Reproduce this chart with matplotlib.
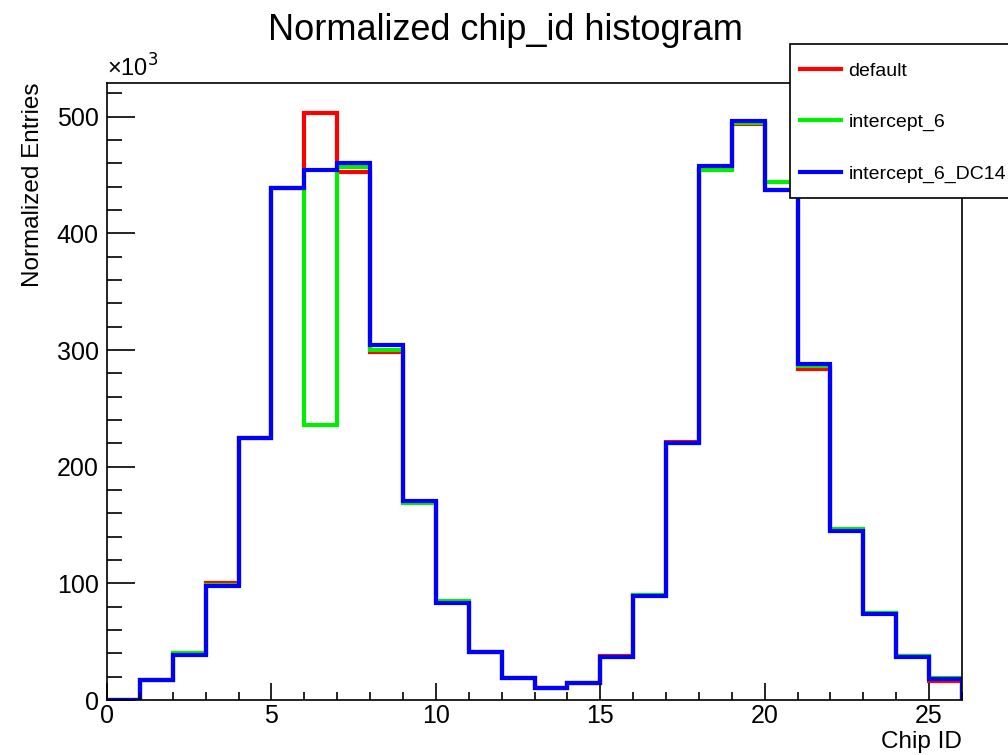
import numpy as np
import matplotlib.pyplot as plt
from matplotlib.patches import Rectangle
from matplotlib.ticker import MultipleLocator

plt.rcParams['font.family'] = ['Liberation Sans', 'DejaVu Sans']

# bin edges for chip IDs 0..25
edges = np.arange(0, 27)

# normalized entries, in units of 10^3
default = [0, 17, 40, 100, 225, 439, 503, 453, 298, 170, 84, 41, 19, 10, 15, 38,
           90, 221, 455, 494, 437, 284, 146, 75, 38, 16]
intercept_6 = [0, 17, 40, 99, 225, 439, 236, 457, 300, 169, 85, 41, 19, 10, 15, 37,
               90, 220, 454, 495, 444, 286, 147, 75, 38, 19]
intercept_6_DC14 = [0, 17, 39, 98, 225, 439, 454, 460, 304, 171, 83, 41, 19, 10, 15, 37,
                    89, 220, 458, 496, 437, 288, 145, 74, 37, 18]

W, H = 1008, 755
fig = plt.figure(figsize=(W / 100, H / 100), dpi=100)
ax = fig.add_axes([107/W, 1 - 700/H, (962-107)/W, (700-83)/H])

ax.stairs(default, edges, color='#ff0000', linewidth=3, label='default')
ax.stairs(intercept_6, edges, color='#00ee00', linewidth=3, label='intercept_6')
ax.stairs(intercept_6_DC14, edges, color='#0000ff', linewidth=3, label='intercept_6_DC14')

ax.set_xlim(0, 26)
ax.set_ylim(0, 529)
ax.xaxis.set_major_locator(MultipleLocator(5))
ax.xaxis.set_minor_locator(MultipleLocator(1))
ax.yaxis.set_major_locator(MultipleLocator(100))
ax.yaxis.set_minor_locator(MultipleLocator(20))
ax.tick_params(which='both', direction='in', labelsize=18, width=1.2)
ax.tick_params(axis='y', which='major', length=20, pad=6)
ax.tick_params(axis='y', which='minor', length=11)
ax.tick_params(axis='x', which='major', length=12, pad=3)
ax.tick_params(axis='x', which='minor', length=6)
for s in ax.spines.values():
    s.set_linewidth(1.2)

ax.set_xlabel('Chip ID', fontsize=17.5, loc='right', labelpad=2)
ax.set_ylabel('Normalized Entries', fontsize=17.5, loc='top', labelpad=9)
ax.text(0, 1.003, '×10$^{3}$', transform=ax.transAxes, fontsize=17,
        ha='left', va='bottom')

fig.text(505/W, 1 - 30/H, 'Normalized chip_id histogram', fontsize=26,
         ha='center', va='center')

# legend box runs past the right edge of the canvas, as in ROOT output
box = Rectangle((790/W, 1 - 198/H), 230/W, 154/H, transform=fig.transFigure,
                facecolor='white', edgecolor='black', linewidth=1.2, zorder=4)
fig.patches.append(box)

leg = fig.legend(loc='upper left', bbox_to_anchor=(800/W, 1 - 62/H),
                 fontsize=14, frameon=False, handlelength=2.1,
                 handletextpad=0.4, labelspacing=1.75, borderpad=0,
                 borderaxespad=0)
leg.set_zorder(5)
for h in leg.get_lines():
    h.set_linewidth(3)

fig.savefig('out.png', dpi=100)
